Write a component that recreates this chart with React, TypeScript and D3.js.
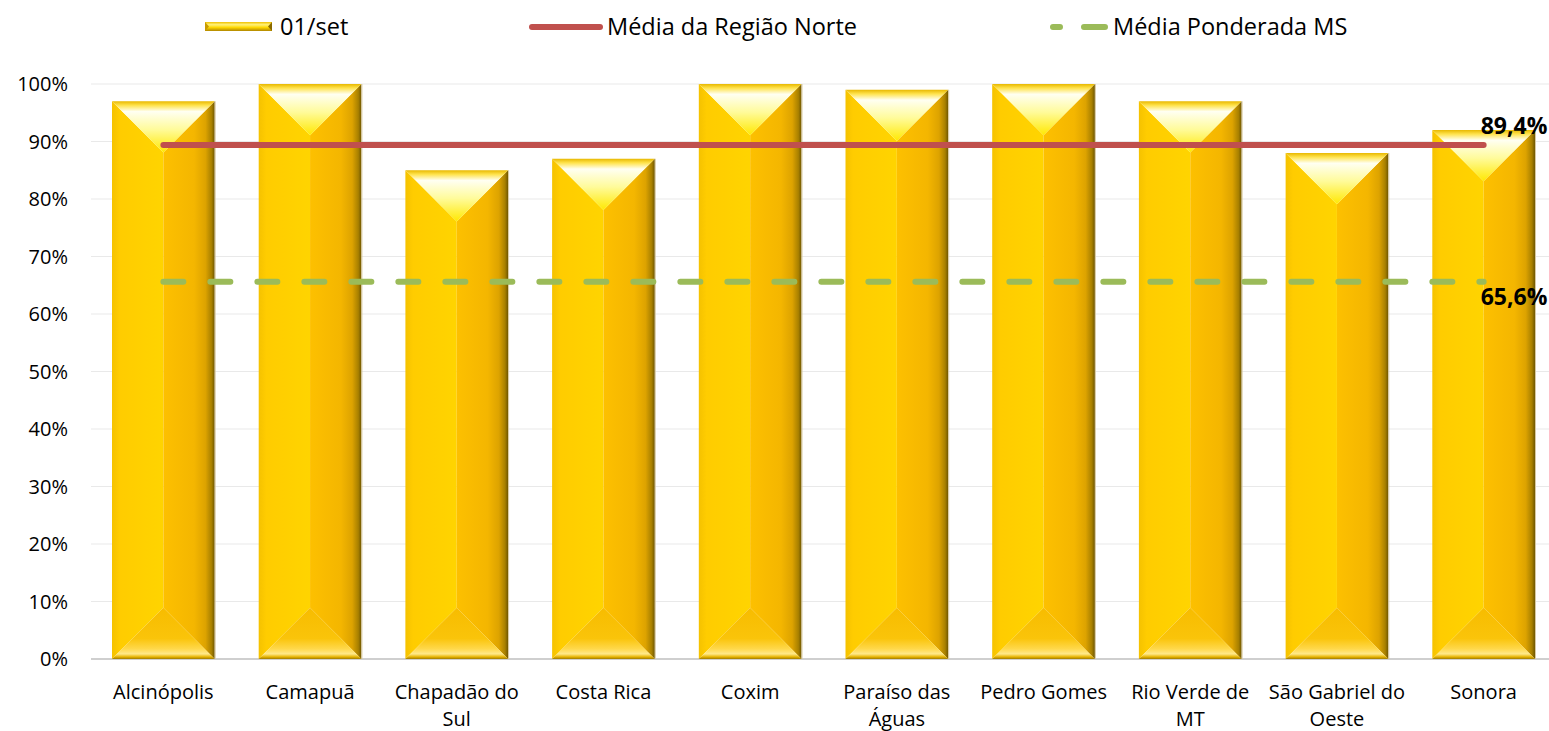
import React from "react";
import * as d3 from "d3";

const categories = [
  ["Alcinópolis"],
  ["Camapuã"],
  ["Chapadão do", "Sul"],
  ["Costa Rica"],
  ["Coxim"],
  ["Paraíso das", "Águas"],
  ["Pedro Gomes"],
  ["Rio Verde de", "MT"],
  ["São Gabriel do", "Oeste"],
  ["Sonora"],
];
const values = [97, 100, 85, 87, 100, 99, 100, 97, 88, 92];
const mediaNorte = 89.4;
const mediaMS = 65.6;
const yTicks = [0, 10, 20, 30, 40, 50, 60, 70, 80, 90, 100];
const legendLabels = ["01/set", "Média da Região Norte", "Média Ponderada MS"];

const W = 1549;
const H = 731;
const FONT = "'Open Sans', sans-serif";

export default function App() {
  const keys = categories.map((c) => c.join(" "));
  const x = d3
    .scaleBand<string>()
    .domain(keys)
    .range([90, 1557])
    .paddingInner(0.3)
    .paddingOuter(0.15);
  const y = d3.scaleLinear().domain([0, 100]).range([659, 84]);
  const bw = x.bandwidth();
  const first = x(keys[0])! + bw / 2;
  const last = x(keys[keys.length - 1])! + bw / 2;

  const line = d3.line<[number, number]>();

  return (
    <svg
      width={W}
      height={H}
      style={{ position: "absolute", left: 0, top: 0, background: "#fff" }}
      fontFamily={FONT}
    >
      <defs>
        <linearGradient id="gLeft" x1="0" x2="1" y1="0" y2="0">
          <stop offset="0" stopColor="#F5C200" />
          <stop offset="0.15" stopColor="#FFCC00" />
          <stop offset="1" stopColor="#FFD400" />
        </linearGradient>
        <linearGradient id="gRight" x1="0" x2="1" y1="0" y2="0">
          <stop offset="0" stopColor="#FDC000" />
          <stop offset="0.6" stopColor="#F4B600" />
          <stop offset="0.82" stopColor="#DDA300" />
          <stop offset="0.94" stopColor="#A88000" />
          <stop offset="1" stopColor="#6E5600" />
        </linearGradient>
        <linearGradient id="gTop" x1="0" x2="0" y1="0" y2="1">
          <stop offset="0" stopColor="#E8B800" />
          <stop offset="0.08" stopColor="#FFE34D" />
          <stop offset="0.2" stopColor="#FFFFF2" />
          <stop offset="0.55" stopColor="#FFFB9A" />
          <stop offset="1" stopColor="#FFE800" />
        </linearGradient>
        <linearGradient id="gBottom" x1="0" x2="0" y1="0" y2="1">
          <stop offset="0" stopColor="#F7BC00" />
          <stop offset="0.6" stopColor="#FAC40A" />
          <stop offset="0.8" stopColor="#FFD84A" />
          <stop offset="0.9" stopColor="#FFE98A" />
          <stop offset="0.96" stopColor="#E7B400" />
          <stop offset="1" stopColor="#9E7A00" />
        </linearGradient>
        <linearGradient id="gLegend" x1="0" x2="0" y1="0" y2="1">
          <stop offset="0" stopColor="#F0C000" />
          <stop offset="0.3" stopColor="#FFF27A" />
          <stop offset="0.6" stopColor="#FFD800" />
          <stop offset="1" stopColor="#B08600" />
        </linearGradient>
      </defs>

      {/* gridlines */}
      {yTicks.map((t) => (
        <line
          key={t}
          x1={91}
          x2={W}
          y1={y(t)}
          y2={y(t)}
          stroke={t === 0 ? "#BFBFBF" : "#E9E9E9"}
          strokeWidth={t === 0 ? 1.5 : 1}
        />
      ))}
      {yTicks.map((t) => (
        <text
          key={"l" + t}
          x={68}
          y={y(t)}
          dy="0.35em"
          textAnchor="end"
          fontSize={20}
          fill="#000"
        >
          {t}%
        </text>
      ))}

      {/* bars */}
      {values.map((v, i) => {
        const x0 = x(keys[i])!;
        const x1 = x0 + bw;
        const xc = x0 + bw / 2;
        const y0 = y(v);
        const yb = y(0);
        const h = bw / 2;
        const pts = (a: [number, number][]) => a.map((p) => p.join(",")).join(" ");
        return (
          <g key={i}>
            <polygon
              points={pts([[x0, y0], [xc, y0 + h], [xc, yb - h], [x0, yb]])}
              fill="url(#gLeft)"
            />
            <polygon
              points={pts([[x1, y0], [xc, y0 + h], [xc, yb - h], [x1, yb]])}
              fill="url(#gRight)"
            />
            <polygon
              points={pts([[x0, y0], [x1, y0], [xc, y0 + h]])}
              fill="url(#gTop)"
            />
            <polygon
              points={pts([[x0, yb], [x1, yb], [xc, yb - h]])}
              fill="url(#gBottom)"
            />
            <line x1={x1 + 0.5} x2={x1 + 0.5} y1={y0} y2={yb} stroke="#D8C9A0" strokeWidth={1} />
          </g>
        );
      })}

      {/* mean lines */}
      <path
        d={line([[first, y(mediaMS)], [last, y(mediaMS)]])!}
        stroke="#9BBB59"
        strokeWidth={6}
        strokeLinecap="round"
        strokeDasharray="20 27"
        fill="none"
      />
      <path
        d={line([[first, y(mediaNorte)], [last, y(mediaNorte)]])!}
        stroke="#C0504D"
        strokeWidth={6}
        strokeLinecap="round"
        fill="none"
      />
      <text x={last - 3} y={y(mediaNorte) - 19} dy="0.35em" fontSize={23} fontWeight="bold">
        {mediaNorte.toFixed(1).replace(".", ",")}%
      </text>
      <text x={last - 3} y={y(mediaMS) + 15} dy="0.35em" fontSize={23} fontWeight="bold">
        {mediaMS.toFixed(1).replace(".", ",")}%
      </text>

      {/* x labels */}
      {categories.map((lines, i) => (
        <text
          key={"x" + i}
          x={x(keys[i])! + bw / 2}
          y={692}
          textAnchor="middle"
          fontSize={20}
        >
          {lines.map((ln, j) => (
            <tspan key={j} x={x(keys[i])! + bw / 2} dy={j === 0 ? "0.35em" : 27}>
              {ln}
            </tspan>
          ))}
        </text>
      ))}

      {/* legend */}
      <g>
        <polygon points="205,22 272,22 272,31 205,31" fill="url(#gLegend)" />
        <polygon points="205,22 209,26.5 205,31" fill="#C89A00" />
        <polygon points="272,22 268,26.5 272,31" fill="#8A6A00" />
        <text x={280} y={27} dy="0.35em" fontSize={23.5}>
          {legendLabels[0]}
        </text>
        <line x1={532} x2={600} y1={27} y2={27} stroke="#C0504D" strokeWidth={6} strokeLinecap="round" />
        <text x={607} y={27} dy="0.35em" fontSize={23.5}>
          {legendLabels[1]}
        </text>
        <line
          x1={1053}
          x2={1105}
          y1={27}
          y2={27}
          stroke="#9BBB59"
          strokeWidth={6}
          strokeLinecap="round"
          strokeDasharray="7 24 21 100"
        />
        <text x={1113} y={27} dy="0.35em" fontSize={23.5}>
          {legendLabels[2]}
        </text>
      </g>
    </svg>
  );
}
